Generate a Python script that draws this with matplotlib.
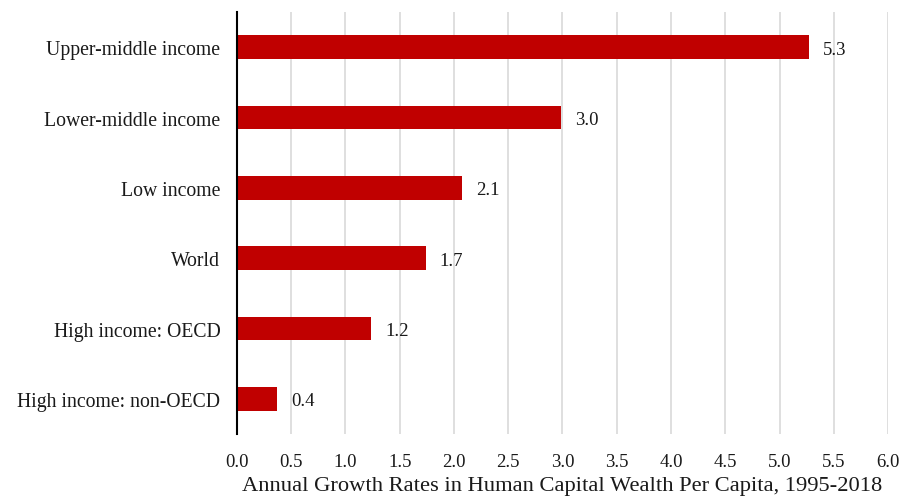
import matplotlib
matplotlib.use("Agg")
import matplotlib.pyplot as plt

categories = ["Upper-middle income", "Lower-middle income", "Low income",
              "World", "High income: OECD", "High income: non-OECD"]
growth = [5.27, 2.99, 2.07, 1.74, 1.235, 0.37]
xticks = [0.0, 0.5, 1.0, 1.5, 2.0, 2.5, 3.0, 3.5, 4.0, 4.5, 5.0, 5.5, 6.0]
xlabel = "Annual Growth Rates in Human Capital Wealth Per Capita, 1995-2018"

plt.rcParams["font.family"] = ["Liberation Serif", "DejaVu Serif"]
text_color = "#1a1a1a"

fig = plt.figure(figsize=(9.02, 5.02), dpi=100)
ax = fig.add_axes([0.2627, 0.1335, 0.7218, 0.8405])

ypos = list(range(len(categories)))
ax.barh(ypos, growth, height=0.34, color="#C00000", zorder=3)
for y, v in zip(ypos, growth):
    ax.text(v + 0.13, y + 0.03, f"{v:.1f}", va="center", ha="left",
            fontsize=13.5, color=text_color)

ax.set_ylim(len(categories) - 0.5, -0.5)
ax.set_xlim(0, 6.0)
ax.set_yticks(ypos)
ax.set_yticklabels(categories, fontsize=14.2, color=text_color)
ax.set_xticks(xticks)
ax.set_xticklabels([f"{t:.1f}" for t in xticks], fontsize=13.5, color=text_color)
ax.tick_params(axis="both", length=0)
ax.tick_params(axis="y", pad=12)
ax.tick_params(axis="x", pad=14)
ax.set_xlabel(xlabel, fontsize=16.2, color=text_color, labelpad=4)

ax.grid(axis="x", color="#D9D9D9", linewidth=1.2, zorder=0)
for s in ["top", "right", "bottom"]:
    ax.spines[s].set_visible(False)
ax.spines["left"].set_color("black")
ax.spines["left"].set_linewidth(1.5)
ax.spines["left"].set_zorder(4)

fig.savefig("out.png", dpi=100)
